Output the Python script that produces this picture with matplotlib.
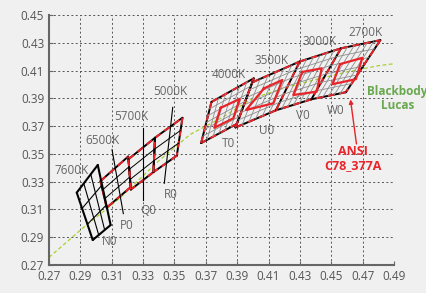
import numpy as np
import matplotlib
matplotlib.use("Agg")
import matplotlib.pyplot as plt

plt.rcParams['font.family'] = ['Open Sans', 'DejaVu Sans']

# ANSI C78.377A quadrangles, corners in order TL, TR, BR, BL (CIE x, y)
cct_names = ['6500K', '5700K', '5000K', '4000K', '3500K', '3000K', '2700K']
quad_x = [[0.3028, 0.3205, 0.3221, 0.3068],
          [0.3207, 0.3376, 0.3366, 0.3222],
          [0.3376, 0.3551, 0.3515, 0.3366],
          [0.3736, 0.4006, 0.3898, 0.3670],
          [0.3996, 0.4299, 0.4147, 0.3889],
          [0.4299, 0.4562, 0.4373, 0.4147],
          [0.4562, 0.4813, 0.4593, 0.4373]]
quad_y = [[0.3304, 0.3481, 0.3261, 0.3113],
          [0.3462, 0.3616, 0.3369, 0.3243],
          [0.3616, 0.3760, 0.3487, 0.3369],
          [0.3874, 0.4044, 0.3716, 0.3578],
          [0.4015, 0.4165, 0.3814, 0.3690],
          [0.4165, 0.4260, 0.3893, 0.3814],
          [0.4260, 0.4319, 0.3944, 0.3893]]

# 7600K quadrangle
q7600_x = [0.2877, 0.3011, 0.3093, 0.2979]
q7600_y = [0.3221, 0.3420, 0.2988, 0.2880]

# inner red quadrangles of the warm bins
inner_x = [[0.3795, 0.3916, 0.3875, 0.3754],
           [0.4071, 0.4188, 0.4130, 0.3957],
           [0.4315, 0.4439, 0.4407, 0.4258],
           [0.4556, 0.4698, 0.4657, 0.4508]]
inner_y = [[0.3832, 0.3895, 0.3756, 0.3688],
           [0.3972, 0.4032, 0.3864, 0.3816],
           [0.4090, 0.4116, 0.3948, 0.3924],
           [0.4146, 0.4192, 0.4038, 0.4002]]

# blackbody locus (Lucas)
bb_x = [0.270, 0.292, 0.315, 0.340, 0.360, 0.380, 0.400, 0.420, 0.440, 0.460, 0.480, 0.492]
bb_y = [0.2755, 0.2970, 0.3180, 0.3450, 0.3640, 0.3760, 0.3900, 0.3975, 0.4035, 0.4090, 0.4135, 0.4152]

# leader lines for P0 / Q0 / R0
lead_x = [[0.3102, 0.3174], [0.3300, 0.3300], [0.3489, 0.3435]]
lead_y = [[0.3530, 0.3070], [0.3686, 0.3168], [0.3835, 0.3288]]

cct_lab_x = [0.2845, 0.3041, 0.3222, 0.3472, 0.3848, 0.4122, 0.4422, 0.4718]
cct_lab_y = [0.3379, 0.3595, 0.3768, 0.3948, 0.4075, 0.4176, 0.4308, 0.4372]
cct_labels = ['7600K', '6500K', '5700K', '5000K', '4000K', '3500K', '3000K', '2700K']

bin_labels = ['N0', 'P0', 'Q0', 'R0', 'T0', 'U0', 'V0', 'W0']
bin_lab_x = [0.3089, 0.3196, 0.3331, 0.3476, 0.3844, 0.4088, 0.4322, 0.4530]
bin_lab_y = [0.2868, 0.2988, 0.3096, 0.3209, 0.3576, 0.3672, 0.3780, 0.3816]

RED = '#e8242a'


def corner(qx, qy, u, v):
    # TL, TR, BR, BL -> point at (u along, v across)
    tl, tr, br, bl = [np.array([qx[i], qy[i]]) for i in range(4)]
    return (1-u)*(1-v)*bl + u*(1-v)*br + u*v*tr + (1-u)*v*tl


def grid_lines(ax, qx, qy, nu, nv, **kw):
    for i in range(1, nu):
        a = corner(qx, qy, i/nu, 0)
        b = corner(qx, qy, i/nu, 1)
        ax.plot([a[0], b[0]], [a[1], b[1]], **kw)
    for j in range(1, nv):
        a = corner(qx, qy, 0, j/nv)
        b = corner(qx, qy, 1, j/nv)
        ax.plot([a[0], b[0]], [a[1], b[1]], **kw)


def outline(ax, qx, qy, edges=(0, 1, 2, 3), dashed=True, lw=1.4):
    for e in edges:
        xs = [qx[e], qx[(e+1) % 4]]
        ys = [qy[e], qy[(e+1) % 4]]
        ax.plot(xs, ys, color='black', lw=lw, solid_capstyle='round')
        if dashed:
            ax.plot(xs, ys, color=RED, lw=lw, linestyle=(0, (3.5, 2.5)))


fig = plt.figure(figsize=(4.27, 2.93), dpi=100, facecolor='#f0f0f0')
ax = fig.add_axes([49/427, 28/293, 345/427, 250/293], facecolor='#f0f0f0')

ax.set_xlim(0.27, 0.49)
ax.set_ylim(0.27, 0.45)
ax.set_xticks(np.arange(0.27, 0.4901, 0.02))
ax.set_yticks(np.arange(0.27, 0.4501, 0.02))
ax.set_xticklabels(['%.2f' % t for t in np.arange(0.27, 0.4901, 0.02)])
ax.set_yticklabels(['%.2f' % t for t in np.arange(0.27, 0.4501, 0.02)])
ax.grid(True, color='#555555', lw=0.7, linestyle=(0, (2, 2.5)))
ax.set_axisbelow(True)
for s in ['top', 'right']:
    ax.spines[s].set_visible(False)
for s in ['left', 'bottom']:
    ax.spines[s].set_color('#666666')
    ax.spines[s].set_linewidth(1.5)
ax.tick_params(colors='#666666', labelcolor='#555555', labelsize=8.5, direction='in', length=3)

# blackbody locus
ax.plot(bb_x, bb_y, color='#a6d22e', lw=0.9, linestyle=(0, (3, 2)), zorder=2)

# warm bins: grey hatch, inner red quads, outlines
for k in range(3, 7):
    grid_lines(ax, quad_x[k], quad_y[k], 6, 6, color='#8c8c8c', lw=0.6, zorder=3)
for k in range(4):
    xs = inner_x[k] + [inner_x[k][0]]
    ys = inner_y[k] + [inner_y[k][0]]
    ax.plot(xs, ys, color=RED, lw=1.6, zorder=5)
outline(ax, quad_x[3], quad_y[3])
outline(ax, quad_x[4], quad_y[4])
outline(ax, quad_x[5], quad_y[5], edges=(0, 1, 2))
outline(ax, quad_x[6], quad_y[6], edges=(0, 1, 2))

# cool bins
for k in range(3):
    grid_lines(ax, quad_x[k], quad_y[k], 1, 3, color='black', lw=0.7, zorder=3)
    outline(ax, quad_x[k], quad_y[k])
grid_lines(ax, q7600_x, q7600_y, 3, 3, color='black', lw=0.8)
outline(ax, q7600_x, q7600_y, dashed=False, lw=1.5)

for lx, ly in zip(lead_x, lead_y):
    ax.plot(lx, ly, color='black', lw=0.8)

for t, x, y in zip(cct_labels, cct_lab_x, cct_lab_y):
    ax.text(x, y, t, color='#666666', fontsize=8.5, ha='center', va='center')
for t, x, y in zip(bin_labels, bin_lab_x, bin_lab_y):
    ax.text(x, y, t, color='#666666', fontsize=8.5, ha='center', va='center')

ax.text(0.4922, 0.3902, 'Blackbody\nLucas', color='#6aa84f', fontsize=8.5, fontweight='bold',
        ha='center', va='center', linespacing=1.1, clip_on=False)
ax.text(0.4639, 0.3468, 'ANSI\nC78_377A', color=RED, fontsize=9, fontweight='bold',
        ha='center', va='center', linespacing=1.1)
ax.annotate('', xy=(0.4620, 0.3912), xytext=(0.4663, 0.3552),
            arrowprops=dict(arrowstyle='-|>', color=RED, lw=1, mutation_scale=6))

plt.savefig('out.png', dpi=100, facecolor=fig.get_facecolor())
